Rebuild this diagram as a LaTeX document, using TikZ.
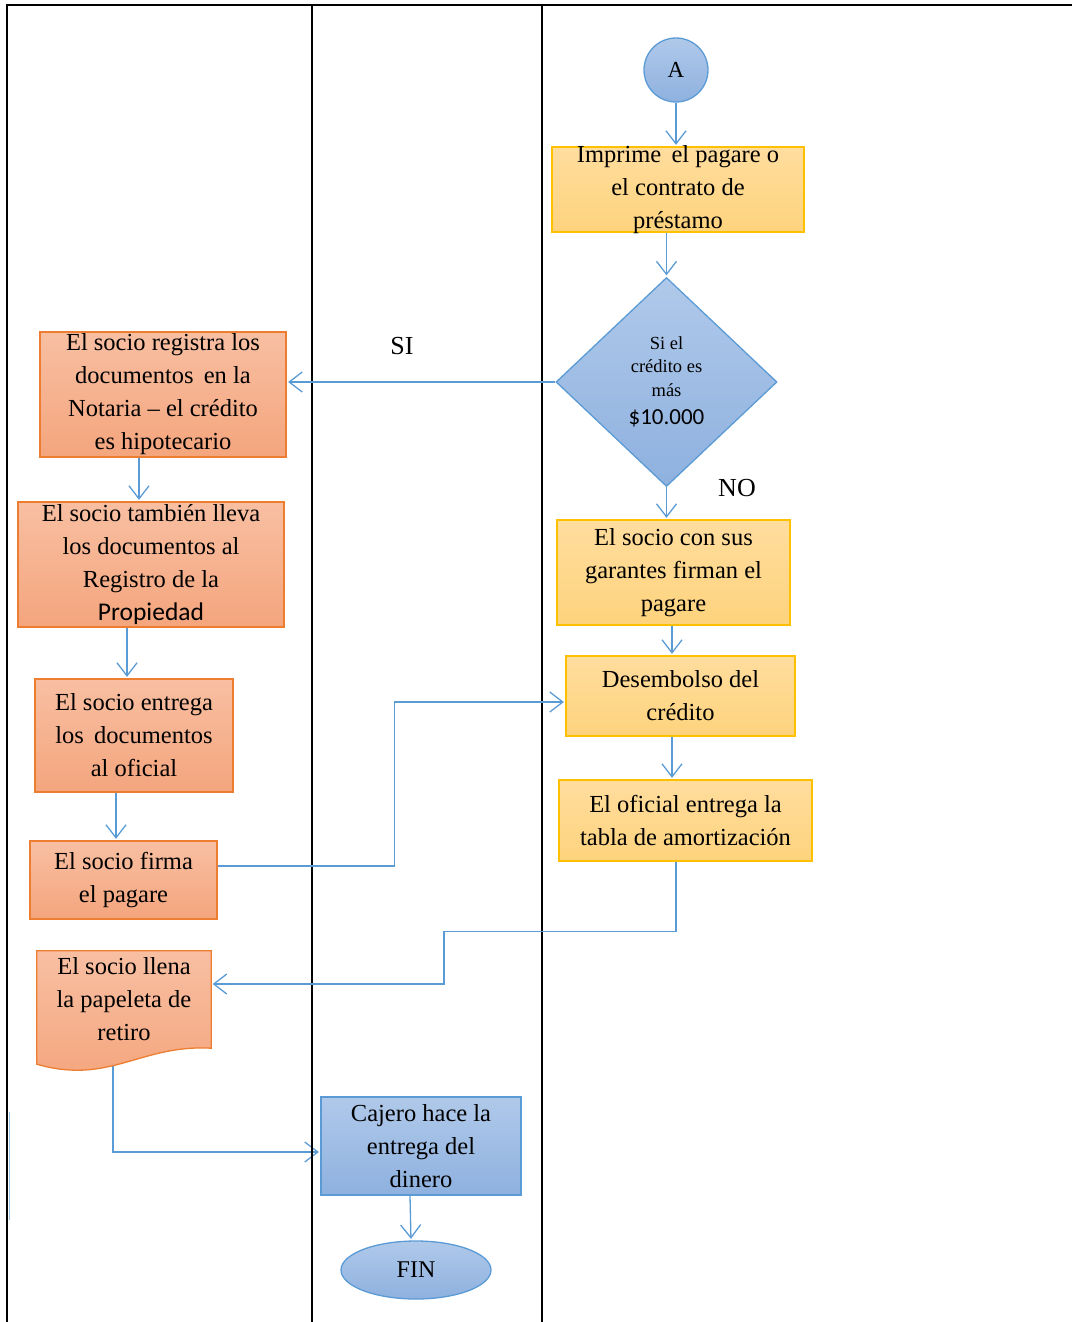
\documentclass[tikz,border=0pt]{standalone}
\usepackage{fontspec}
\setmainfont{Liberation Serif}
\newfontfamily\carlito{Carlito}
\usetikzlibrary{arrows.meta,shapes.geometric,backgrounds}

\definecolor{orangeTop}{RGB}{248,191,162}
\definecolor{orangeBot}{RGB}{244,165,125}
\definecolor{orangeEdge}{RGB}{237,125,49}
\definecolor{yellowTop}{RGB}{255,221,158}
\definecolor{yellowBot}{RGB}{254,211,125}
\definecolor{yellowEdge}{RGB}{255,192,0}
\definecolor{blueTop}{RGB}{176,201,234}
\definecolor{blueBot}{RGB}{142,177,223}
\definecolor{blueEdge}{RGB}{91,155,213}
\definecolor{strayBlue}{RGB}{157,195,230}

\tikzset{
  lane/.style={line width=2.6pt, black, line cap=rect},
  txt/.style={font=\fontsize{24.5}{33}\selectfont, align=center},
  box/.style={txt, rectangle, line width=1.3pt, inner sep=2pt},
  orangebox/.style={box, draw=orangeEdge, top color=orangeTop, bottom color=orangeBot},
  yellowbox/.style={box, draw=yellowEdge, top color=yellowTop, bottom color=yellowBot},
  bluebox/.style={box, draw=blueEdge, top color=blueTop, bottom color=blueBot},
  conn/.style={draw=blueEdge, line width=1.3pt,
    -{Straight Barb[length=13pt,width=20pt]}, shorten >=1.5pt},
  label/.style={font=\fontsize{26}{30}\selectfont}
}

\begin{document}
\begin{tikzpicture}[x=1pt, y=-1pt]
\useasboundingbox (0,0) rectangle (1071,1322);

% swimlane frame
\draw[lane] (7,5) -- (1071,5);
\draw[lane] (7,5) -- (7,1322);
\draw[lane] (312,5) -- (312,1322);
\draw[lane] (542,5) -- (542,1322);
\draw[strayBlue, line width=1pt] (9.5,1112) -- (9.5,1220);

% right lane
\node[bluebox, circle, minimum size=64pt, inner sep=0pt, font=\fontsize{23}{26}\selectfont] (A) at (676,70) {A};
\node[yellowbox, minimum width=252pt, minimum height=85pt, inner ysep=-2.5pt] (imprime) at (678,189.5)
  {Imprime\, el pagare o\\el contrato de\\préstamo};
\node[diamond, draw=blueEdge, line width=1.3pt, top color=blueTop, bottom color=blueBot,
      minimum width=221pt, minimum height=209pt, inner sep=0pt, align=center,
      font=\fontsize{18.5}{23.5}\selectfont] (decision) at (666.5,382)
  {Si el\\crédito es\\más\\[5pt]{\carlito\fontsize{23}{28}\selectfont \$10.000}};
\node[yellowbox, minimum width=233pt, minimum height=105pt] (socios) at (673.5,572.5)
  {El socio con sus\\garantes firman el\\pagare};
\node[yellowbox, minimum width=229pt, minimum height=80pt] (desembolso) at (680.5,696)
  {Desembolso del\\crédito};
\node[yellowbox, minimum width=253pt, minimum height=81pt] (oficial) at (685.5,820.5)
  {El oficial entrega la\\tabla de amortización};

% left lane
\node[orangebox, minimum width=246pt, minimum height=125pt] (notaria) at (163,394.5)
  {El socio registra los\\documentos\, en la\\Notaria -- el crédito\\es hipotecario};
\node[orangebox, minimum width=266pt, minimum height=125pt] (registro) at (151,564.5)
  {El socio también lleva\\los documentos al\\Registro de la\\{\carlito\fontsize{25.5}{33}\selectfont Propiedad}};
\node[orangebox, minimum width=198pt, minimum height=113pt] (entrega) at (134,735.5)
  {El socio entrega\\los\, documentos\\al oficial};
\node[orangebox, minimum width=187pt, minimum height=78pt] (firma) at (123.5,880)
  {El socio firma\\el pagare};
\node[txt, minimum width=174pt, minimum height=97pt, inner sep=0pt] (papeleta) at (124,999.5)
  {El socio llena\\la papeleta de\\retiro};

% middle lane
\node[bluebox, minimum width=200pt, minimum height=98pt] (cajero) at (421,1146)
  {Cajero hace la\\entrega del\\dinero};
\node[ellipse, draw=blueEdge, line width=1.3pt, top color=blueTop, bottom color=blueBot,
      minimum width=150pt, minimum height=58pt, inner sep=0pt,
      font=\fontsize{24}{28}\selectfont] (fin) at (416,1270) {FIN};

% branch labels
\node[label] (si) at (402,346) {SI};
\node[label] (no) at (737,488) {NO};

% document shape behind its text, and the connector leaving it
\begin{scope}[on background layer]
  \draw[conn] ([xshift=-11pt]papeleta.south) |- ([yshift=-6pt]cajero.west);
  \path[draw=orangeEdge, line width=1.3pt, top color=orangeTop, bottom color=orangeBot]
    (papeleta.north west) -- (papeleta.north east) -- (papeleta.south east)
    .. controls +(-71,-4) and +(73,21) .. ([yshift=-16pt]papeleta.south west) -- cycle;
\end{scope}

% connectors
\draw[conn] (A.south) -- (A.south |- imprime.north);
\draw[conn] (imprime.south -| decision.north) -- (decision.north);
\draw[conn] (decision.west) -- (decision.west -| notaria.east);
\draw[conn] (decision.south) -- (decision.south |- socios.north);
\draw[conn] ([xshift=-1.5pt]socios.south) -- ([xshift=-1.5pt]socios.south |- desembolso.north);
\draw[conn] ([xshift=-8.5pt]desembolso.south) -- ([xshift=-8.5pt]desembolso.south |- oficial.north);
\draw[conn] ([xshift=-24pt]notaria.south) -- ([xshift=-24pt]notaria.south |- registro.north);
\draw[conn] ([xshift=-24pt]registro.south) -- ([xshift=-24pt]registro.south |- entrega.north);
\draw[conn] ([xshift=-18pt]entrega.south) -- ([xshift=-18pt]entrega.south |- firma.north);
\draw[conn] ([yshift=14pt]firma.east) -- ++(177,0) |- ([yshift=-6pt]desembolso.west);
\draw[conn] ([xshift=-9.5pt]oficial.south) -- ++(0,70) -- ++(-232,0) |- ([yshift=15.5pt]papeleta.east);
\draw[conn] ([xshift=-11pt]cajero.south) -- ([xshift=-5pt]fin.north);
\end{tikzpicture}
\end{document}
